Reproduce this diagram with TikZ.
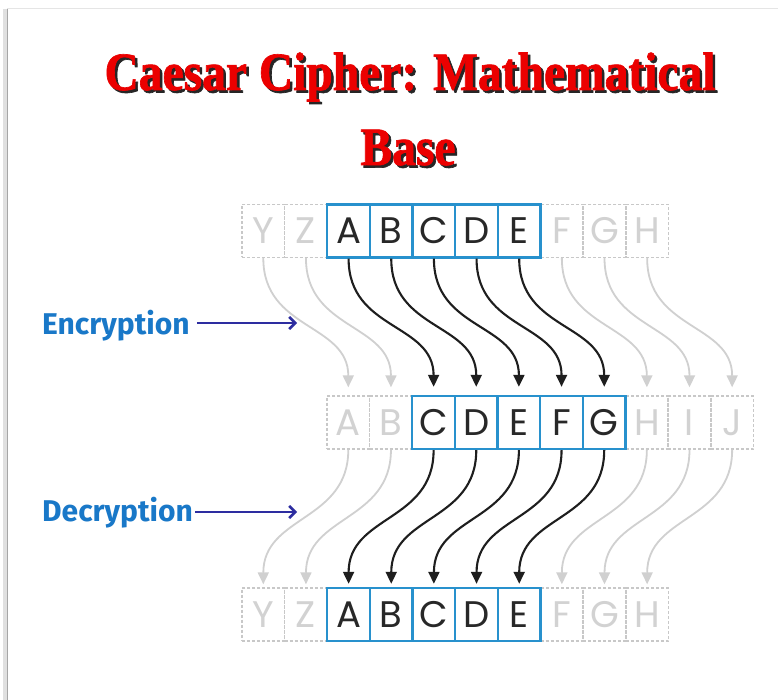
\documentclass[tikz,border=0pt]{standalone}
\usepackage{fontspec}
\usetikzlibrary{arrows.meta}
\newfontfamily\cellfont{Poppins}
\newfontfamily\labelfont{Fira Sans}
\newfontfamily\titlefont[FakeStretch=0.88,FakeBold=1.2]{Liberation Serif}
\definecolor{boxblue}{RGB}{40,145,205}
\definecolor{cellgrey}{RGB}{200,200,200}
\definecolor{lettergrey}{RGB}{210,210,210}
\definecolor{letterdark}{RGB}{40,40,40}
\definecolor{arrowdark}{RGB}{30,30,30}
\definecolor{arrowgrey}{RGB}{208,208,208}
\definecolor{labelblue}{RGB}{25,120,200}
\definecolor{arrowblue}{RGB}{45,45,160}
\definecolor{titlered}{RGB}{235,0,0}
\newcommand{\shadowtext}[1]{\makebox[0pt][l]{\hspace{2.5pt}\raisebox{-2.5pt}{\color{black!85}#1}}#1}
\tikzset{
  cellbase/.style={minimum width=42.65pt, minimum height=53pt, inner sep=0pt,
    font=\cellfont\fontsize{37}{37}\selectfont},
  cellg/.style={cellbase, draw=cellgrey, line width=1.4pt, dash pattern=on 3pt off 2pt, text=lettergrey},
  cellb/.style={cellbase, draw=boxblue, line width=2.4pt, text=letterdark},
  arrb/.style={draw=arrowdark, line width=2.1pt, -{Triangle[length=12pt,width=11pt]}},
  arrg/.style={draw=arrowgrey, line width=1.8pt, -{Triangle[length=12pt,width=11pt]}},
  lbl/.style={font=\labelfont\bfseries\fontsize{30}{30}\selectfont, text=labelblue, inner sep=0pt},
  lblarrow/.style={draw=arrowblue, line width=2.6pt, -{Straight Barb[length=6pt,width=12pt,line width=2.6pt]}},
  ttl/.style={font=\titlefont\bfseries\fontsize{54}{54}\selectfont, inner sep=0pt, text=titlered, anchor=base}
}
\begin{document}
\begin{tikzpicture}[x=1pt,y=-1pt]
\useasboundingbox (0,0) rectangle (778,700);
\fill[white] (0,0) rectangle (778,700);
% slide frame
\fill[black!12] (3,9) rectangle (8,700);
\draw[black!35, line width=1.6pt] (7.5,9) -- (7.5,700);
\draw[black!10, line width=1pt] (7,8.5) -- (778,8.5);
% title
\node[ttl] (t1) at (410,90) {\shadowtext{Caesar Cipher: Mathematical}};
\node[ttl] (t2) at (408,165) {\shadowtext{Base}};
% top row
\foreach \i/\L in {0/Y,1/Z,7/F,8/G,9/H}
  \node[cellg] (t\i) at (263.3+42.65*\i,231) {\L};
\foreach \i/\L in {2/A,3/B,4/C,5/D,6/E}
  \node[cellb] (t\i) at (263.3+42.65*\i,231) {\L};
% middle row
\foreach \i/\L in {0/A,1/B,7/H,8/I,9/J}
  \node[cellg] (m\i) at (348.3+42.65*\i,422.5) {\L};
\foreach \i/\L in {2/C,3/D,4/E,5/F,6/G}
  \node[cellb] (m\i) at (348.3+42.65*\i,422.5) {\L};
% bottom row
\foreach \i/\L in {0/Y,1/Z,7/F,8/G,9/H}
  \node[cellg] (b\i) at (263.3+42.65*\i,614.5) {\L};
\foreach \i/\L in {2/A,3/B,4/C,5/D,6/E}
  \node[cellb] (b\i) at (263.3+42.65*\i,614.5) {\L};
% encryption arrows
\foreach \i in {0,1,7,8,9}
  \draw[arrg, shorten >=8pt] (t\i.south) .. controls +(0,72) and +(0,-72) .. (m\i.north);
\foreach \i in {2,3,4,5,6}
  \draw[arrb, shorten >=8pt] (t\i.south) .. controls +(0,72) and +(0,-72) .. (m\i.north);
% decryption arrows
\foreach \i in {0,1,7,8,9}
  \draw[arrg, shorten >=3pt] (m\i.south) .. controls +(0,72) and +(0,-72) .. (b\i.north);
\foreach \i in {2,3,4,5,6}
  \draw[arrb, shorten >=3pt] (m\i.south) .. controls +(0,72) and +(0,-72) .. (b\i.north);
% labels
\node[lbl, anchor=west] (enc) at (42,326) {Encryption};
\coordinate (encend) at (297,323);
\draw[lblarrow] ([xshift=7pt]enc.east |- encend) -- (encend);
\node[lbl, anchor=west] (dec) at (42,513) {Decryption};
\coordinate (decend) at (297,512);
\draw[lblarrow] ([xshift=2pt]dec.east |- decend) -- (decend);
\end{tikzpicture}
\end{document}
